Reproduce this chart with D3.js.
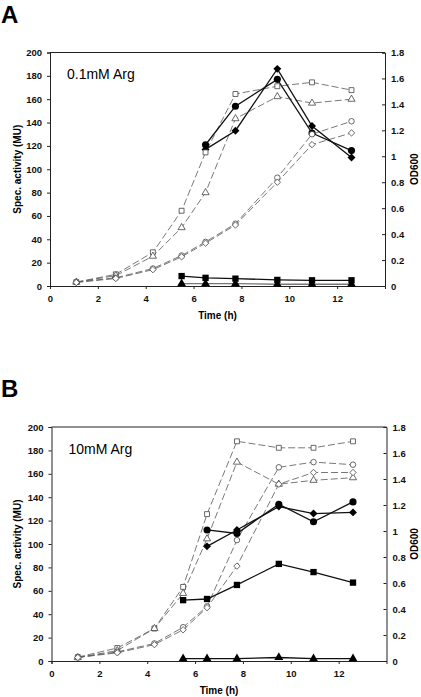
<!DOCTYPE html>
<html><head><meta charset="utf-8">
<script src="https://cdn.jsdelivr.net/npm/d3@7/dist/d3.min.js"></script>
<style>body{margin:0;background:#fff}svg{display:block}</style>
</head><body>
<script>
// ---- data ----
const times = [1.1, 2.75, 4.3, 5.5, 6.5, 7.75, 9.5, 10.95, 12.6];
const xTicks = [0, 2, 4, 6, 8, 10, 12];
const leftTicks = [0, 20, 40, 60, 80, 100, 120, 140, 160, 180, 200];
const rightTicks = [0, 0.2, 0.4, 0.6, 0.8, 1, 1.2, 1.4, 1.6, 1.8];

// Panel A (0.1mM Arg) - OD600 (right axis, dashed, open markers)
const aOD_square   = [0.03, 0.09, 0.26, 0.58, 1.03, 1.48, 1.54, 1.57, 1.51];
const aOD_triangle = [0.03, 0.08, 0.23, 0.45, 0.72, 1.29, 1.46, 1.41, 1.44];
const aOD_circle   = [0.03, 0.063, 0.135, 0.235, 0.34, 0.48, 0.835, 1.17, 1.27];
const aOD_diamond  = [0.027, 0.058, 0.126, 0.225, 0.33, 0.47, 0.80, 1.09, 1.18];
// Panel A - spec. activity (left axis, solid, filled markers)
const aMU_circle   = [null, null, null, null, 121, 154, 177, 131, 116];
const aMU_diamond  = [null, null, null, null, 117, 133, 186, 137, 110];
const aMU_square   = [null, null, null, 8.5, 7, 6.3, 5.2, 4.9, 4.9];
const aMU_triangle = [null, null, null, 2, 2, 2, 1.5, 1.5, 1.5];

// Panel B (10mM Arg)
const bOD_square   = [0.03, 0.1, 0.25, 0.57, 1.13, 1.69, 1.64, 1.64, 1.69];
const bOD_triangle = [0.027, 0.08, 0.25, 0.52, 0.94, 1.53, 1.36, 1.39, 1.41];
const bOD_circle   = [0.027, 0.07, 0.135, 0.26, 0.42, 0.93, 1.49, 1.53, 1.51];
const bOD_diamond  = [0.027, 0.063, 0.126, 0.24, 0.41, 0.73, 1.36, 1.45, 1.45];
const bMU_circle   = [null, null, null, null, 112, 109, 134, 119, 136];
const bMU_diamond  = [null, null, null, null, 98, 112, 132, 126, 127];
const bMU_square   = [null, null, null, 52, 53, 65, 83, 76, 67];
const bMU_triangle = [null, null, null, 2, 2, 2, 3, 2, 2];

const W = 421, H = 697;
const svg = d3.select("body").append("svg").attr("width", W).attr("height", H)
  .style("font-family", "'Liberation Sans', Arial, sans-serif");

const diamondSym = d3.symbolDiamond2 || d3.symbolDiamond;
const symbols = {circle: d3.symbolCircle, square: d3.symbolSquare, triangle: d3.symbolTriangle, diamond: diamondSym};
const filledSizes = {circle: 40, square: 40, triangle: 34, diamond: 40};
const openSizes = {circle: 24, square: 24, triangle: 22, diamond: 26};

function panel(cfg) {
  const {x0, x1, y0, y1, letter, letterY, label, labelY, od, mu} = cfg;
  const x = d3.scaleLinear().domain([0, 14]).range([x0, x1]);
  const yL = d3.scaleLinear().domain([0, 200]).range([y1, y0]);
  const yR = d3.scaleLinear().domain([0, 1.8]).range([y1, y0]);
  const g = svg.append("g");

  // frame top line
  g.append("line").attr("x1", x0).attr("x2", x1).attr("y1", y0).attr("y2", y0)
    .attr("stroke", "#222").attr("stroke-width", 1);

  const ax = g.append("g").attr("transform", `translate(0,${y1})`)
    .call(d3.axisBottom(x).tickValues(xTicks).tickSize(3).tickPadding(6).tickFormat(d3.format("d")));
  const al = g.append("g").attr("transform", `translate(${x0},0)`)
    .call(d3.axisLeft(yL).tickValues(leftTicks).tickSize(3).tickPadding(5).tickFormat(d3.format("d")));
  const ar = g.append("g").attr("transform", `translate(${x1},0)`)
    .call(d3.axisRight(yR).tickValues(rightTicks).tickSize(-3).tickPadding(6).tickFormat(d => d === 0 ? "0" : d3.format("")(+d.toFixed(1))));
  [ax, al, ar].forEach(a => {
    a.selectAll("path.domain").attr("stroke", "#222").attr("stroke-width", 1);
    a.selectAll("line").attr("stroke", "#222");
    a.selectAll("text").attr("font-size", 9.5).attr("font-weight", "bold").attr("fill", "#111")
      .attr("font-family", "'Liberation Sans', Arial, sans-serif");
  });

  // titles
  g.append("text").attr("transform", `translate(21,${(y0 + y1) / 2}) rotate(-90)`)
    .attr("text-anchor", "middle").attr("font-size", 10).attr("font-weight", "bold").text("Spec. activity (MU)");
  g.append("text").attr("transform", `translate(418,${(y0 + y1) / 2}) rotate(-90)`)
    .attr("text-anchor", "middle").attr("font-size", 10).attr("font-weight", "bold").text("OD600");
  g.append("text").attr("x", (x0 + x1) / 2).attr("y", y1 + 33)
    .attr("text-anchor", "middle").attr("font-size", 10).attr("font-weight", "bold").text("Time (h)");
  g.append("text").attr("x", 1).attr("y", letterY).attr("font-size", 24).attr("font-weight", "bold").text(letter);
  g.append("text").attr("x", x0 + 17).attr("y", labelY).attr("font-size", 14).text(label);

  const mk = (vals) => times.map((t, i) => ({t, v: vals[i]})).filter(d => d.v != null);

  // dashed OD lines
  od.forEach(s => {
    const line = d3.line().x(d => x(d.t)).y(d => yR(d.v));
    g.append("path").datum(mk(s.vals)).attr("d", line).attr("fill", "none")
      .attr("stroke", "#555").attr("stroke-width", 0.8).attr("stroke-dasharray", "7,3");
  });
  // solid MU lines
  mu.forEach(s => {
    const line = d3.line().x(d => x(d.t)).y(d => yL(d.v));
    g.append("path").datum(mk(s.vals)).attr("d", line).attr("fill", "none")
      .attr("stroke", s.lineColor || "#111").attr("stroke-width", 1.3);
  });
  mu.forEach(s => {
    g.selectAll(null).data(mk(s.vals)).join("path")
      .attr("transform", d => `translate(${x(d.t)},${yL(d.v)})`)
      .attr("d", d3.symbol().type(symbols[s.shape]).size(filledSizes[s.shape]))
      .attr("fill", "#000");
  });
  od.forEach(s => {
    g.selectAll(null).data(mk(s.vals)).join("path")
      .attr("transform", d => `translate(${x(d.t)},${yR(d.v)})`)
      .attr("d", d3.symbol().type(symbols[s.shape]).size(openSizes[s.shape]))
      .attr("fill", "#fff").attr("stroke", "#444").attr("stroke-width", 0.8);
  });
}

panel({x0: 50, x1: 385, y0: 52.5, y1: 286, letter: "A", letterY: 23, label: "0.1mM Arg", labelY: 79,
  od: [{vals: aOD_square, shape: "square"}, {vals: aOD_triangle, shape: "triangle"},
       {vals: aOD_circle, shape: "circle"}, {vals: aOD_diamond, shape: "diamond"}],
  mu: [{vals: aMU_triangle, shape: "triangle", lineColor: "#777"}, {vals: aMU_square, shape: "square"},
       {vals: aMU_circle, shape: "circle"}, {vals: aMU_diamond, shape: "diamond"}]});

panel({x0: 51.5, x1: 386.5, y0: 427, y1: 661, letter: "B", letterY: 397, label: "10mM Arg", labelY: 454,
  od: [{vals: bOD_square, shape: "square"}, {vals: bOD_triangle, shape: "triangle"},
       {vals: bOD_circle, shape: "circle"}, {vals: bOD_diamond, shape: "diamond"}],
  mu: [{vals: bMU_triangle, shape: "triangle"}, {vals: bMU_square, shape: "square"},
       {vals: bMU_circle, shape: "circle"}, {vals: bMU_diamond, shape: "diamond"}]});
</script>
</body></html>
